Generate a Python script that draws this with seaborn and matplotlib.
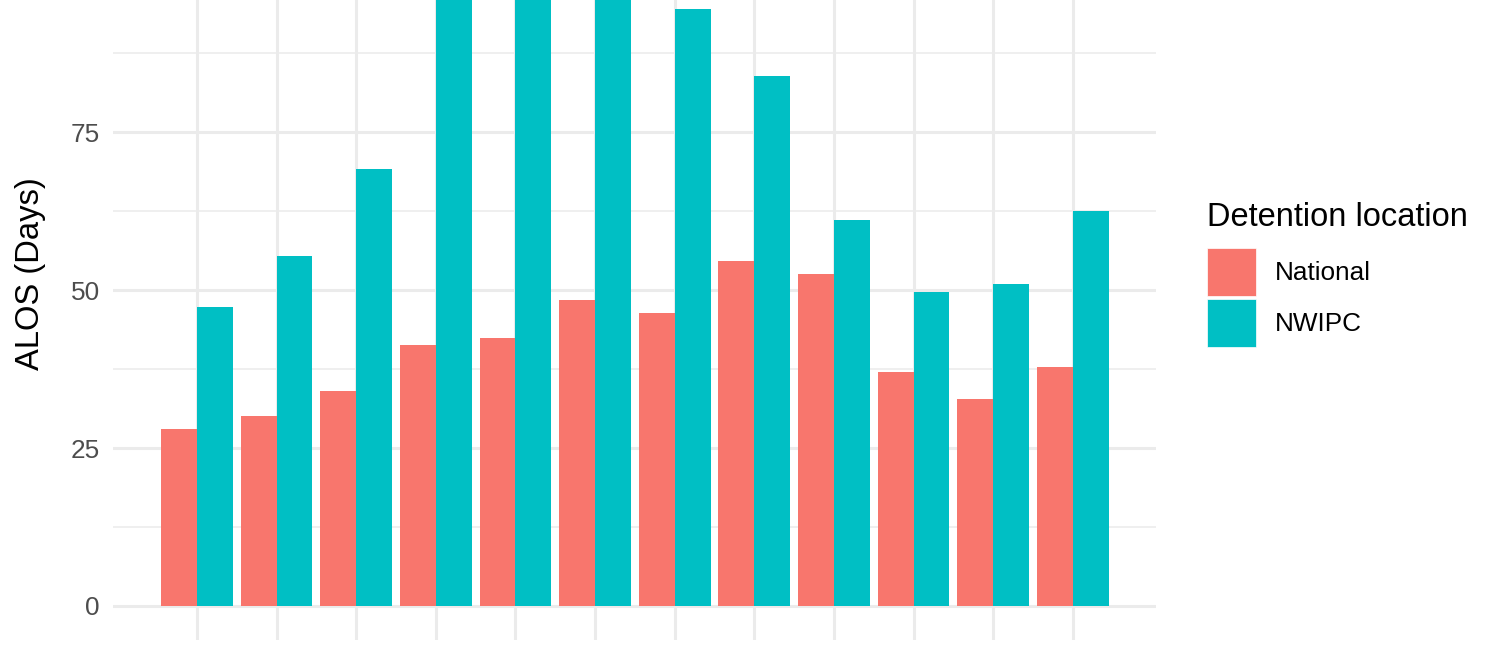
import pandas as pd
import seaborn as sns
import matplotlib.pyplot as plt

# Data (x labels are cut off in the reference, periods are placeholders)
PERIODS = ['2012', '2013', '2014', '2015', '2016', '2017',
           '2018', '2019', '2020', '2021', '2022', '2023']
NATIONAL = [28.0, 30.1, 34.0, 41.3, 42.4, 48.4, 46.4, 54.6, 52.5, 37.0, 32.8, 37.8]
NWIPC = [47.3, 55.4, 69.1, 104.0, 108.0, 101.0, 94.5, 83.9, 61.1, 49.7, 50.9, 62.5]
LOCATIONS = ['National', 'NWIPC']
COLORS = ['#F8766D', '#00BFC4']
Y_TICKS = [0, 25, 50, 75]
MINOR_TICKS = [12.5, 37.5, 62.5, 87.5]

df = pd.DataFrame({
    'period': PERIODS * 2,
    'alos': NATIONAL + NWIPC,
    'location': [LOCATIONS[0]] * len(PERIODS) + [LOCATIONS[1]] * len(PERIODS),
})

sns.set_theme(style='white')
plt.rcParams['font.family'] = ['Liberation Sans', 'DejaVu Sans']

fig = plt.figure(figsize=(15, 6.5), dpi=100)
# panel: x 113..1156 px, y 0..640 px (top of the original is cropped)
ax = fig.add_axes([113 / 1500, 10 / 650, (1156 - 113) / 1500, 640 / 650])

sns.barplot(data=df, x='period', y='alos', hue='location', hue_order=LOCATIONS,
            palette=COLORS, width=0.9, linewidth=0, saturation=1, ax=ax, zorder=3)

ax.set_ylim(-5.38, 95.89)
ax.set_xlim(-1.055, 12.045)

# grid like theme_minimal
ax.set_yticks(Y_TICKS)
ax.set_yticks(MINOR_TICKS, minor=True)
ax.grid(True, which='major', color='#EBEBEB', linewidth=2.2, zorder=0)
ax.grid(True, which='minor', axis='y', color='#EBEBEB', linewidth=1.1, zorder=0)
ax.set_axisbelow(True)
for s in ax.spines.values():
    s.set_visible(False)

ax.tick_params(axis='y', which='both', length=0, pad=9.5, labelsize=18.8, labelcolor='#4D4D4D')
ax.tick_params(axis='x', length=0, labelbottom=False)
ax.set_xlabel('')
ax.set_ylabel('ALOS (Days)', fontsize=23.6, color='black')
ax.yaxis.set_label_coords(-0.064, 0.572)

leg = ax.legend(title='Detention location', loc='upper left',
                bbox_to_anchor=(1207 / 1500, 1 - 202 / 650), bbox_transform=fig.transFigure,
                frameon=False, fontsize=18.8, title_fontsize=23.5, borderpad=0,
                handlelength=1.88, handleheight=2.45, labelspacing=0.12,
                handletextpad=0.72, borderaxespad=0, alignment='left')
leg._legend_box.sep = 11  # extra room under the title
leg.get_title().set_color('black')
for t in leg.get_texts():
    t.set_color('black')
for h in leg.legend_handles:
    h.set_edgecolor('white')
    h.set_linewidth(0.5)

fig.savefig('out.png', dpi=100)
